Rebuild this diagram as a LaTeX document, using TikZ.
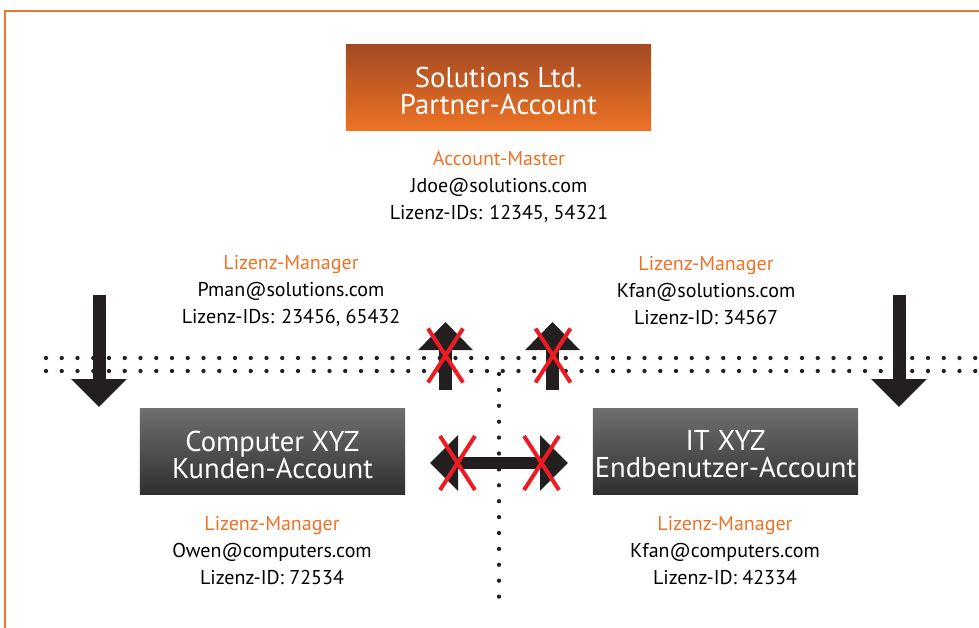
\documentclass[tikz,border=0pt]{standalone}
\usepackage{fontspec}
\setmainfont{PT Sans}
\usetikzlibrary{arrows.meta}

\definecolor{frameorange}{RGB}{240,118,40}
\definecolor{labelorange}{RGB}{238,113,37}
\definecolor{rusttop}{RGB}{163,74,35}
\definecolor{rustbottom}{RGB}{237,114,37}
\definecolor{greytop}{RGB}{112,112,112}
\definecolor{greybottom}{RGB}{48,48,48}
\definecolor{arrowblack}{RGB}{35,31,32}
\definecolor{crossred}{RGB}{237,28,36}

\begin{document}
\begin{tikzpicture}[x=0.75pt, y=-0.75pt, every node/.style={font=\fontsize{15}{20.25}\selectfont}]

	% Define styles for the account boxes, the role texts and the block arrows
	\tikzset{
		partner box/.style={minimum width=229pt, minimum height=64.5pt, top color=rusttop, bottom color=rustbottom,
			text=white, align=center, font=\fontsize{21.5}{20.25}\selectfont},
		customer box/.style={minimum width=199pt, minimum height=64.5pt, top color=greytop, bottom color=greybottom,
			text=white, align=center, font=\fontsize{21.5}{20.25}\selectfont},
		box text/.style={text=white, align=center, font=\fontsize{21.5}{20.25}\selectfont},
		role text/.style={align=center, text=black},
		block arrow/.style={draw=arrowblack, line width=9.75pt, -{Triangle[width=40.5pt, length=21pt]}},
		block arrows/.style={draw=arrowblack, line width=9.4pt, {Triangle[width=40.5pt, length=21pt]}-{Triangle[width=40.5pt, length=21pt]}},
		red cross/.style={draw=crossred, line width=3pt},
		dot/.style={fill=arrowblack}
	}

	\useasboundingbox (0,0) rectangle (979,628);

	% Orange frame, open to the right and at the bottom
	\draw[frameorange, line width=1.6pt] (979,11) -- (5,11) -- (5,628);

	% Dotted separation lines
	\foreach \i in {0,...,59} {
		\fill[dot] (46+\i*15.75,358) circle (1.6pt);
		\fill[dot] (46+\i*15.75,371) circle (1.6pt);
	}
	\foreach \j in {0,...,14} {
		\fill[dot] (499,374+\j*15.9) circle (1.6pt);
	}

	% Account boxes
	\node[partner box] (partner) at (498.5,87) {};
	\node[customer box] (customer) at (272.5,451) {};
	\node[customer box] (enduser) at (725.5,451) {};
	\node[box text] (partner name) at (498.5,90.5) {Solutions Ltd.\\Partner-Account};
	\node[box text] (customer name) at (272.5,454.5) {Computer XYZ\\Kunden-Account};
	\node[box text] (enduser name) at (725.5,454.5) {IT XYZ\\Endbenutzer-Account};

	% Roles and licences
	\node[role text] (master) at (499,187) {\textcolor{labelorange}{Account-Master}\\Jdoe@solutions.com\\Lizenz-IDs: 12345, 54321};
	\node[role text] (pman) at (291,291) {\textcolor{labelorange}{Lizenz-Manager}\\Pman@solutions.com\\Lizenz-IDs: 23456, 65432};
	\node[role text] (kfan) at (706,291) {\textcolor{labelorange}{Lizenz-Manager}\\Kfan@solutions.com\\Lizenz-ID: 34567};
	\node[role text] (owen) at (272,551) {\textcolor{labelorange}{Lizenz-Manager}\\Owen@computers.com\\Lizenz-ID: 72534};
	\node[role text] (kfanit) at (725,551) {\textcolor{labelorange}{Lizenz-Manager}\\Kfan@computers.com\\Lizenz-ID: 42334};

	% Allowed moves: down into the customer accounts
	\coordinate (downL start) at (99,295);
	\coordinate (downL end) at (99,407);
	\coordinate (downR start) at (899,295);
	\coordinate (downR end) at (899,407);
	\draw[block arrow] (downL start) -- (downL end);
	\draw[block arrow] (downR start) -- (downR end);

	% Blocked moves: up and sideways
	\coordinate (upL start) at (445.5,390);
	\coordinate (upL end) at (445.5,322);
	\coordinate (upR start) at (552.5,390);
	\coordinate (upR end) at (552.5,322);
	\coordinate (side left) at (430,463);
	\coordinate (side right) at (568,463);
	\draw[block arrow, -{Triangle[width=39.75pt, length=21pt]}] (upL start) -- (upL end);
	\draw[block arrow, -{Triangle[width=39.75pt, length=21pt]}] (upR start) -- (upR end);
	\draw[block arrows] (side left) -- (side right);

	% Red crosses over the blocked moves
	\foreach \cx/\cy in {445.5/355.5, 553/355.5, 457.5/463, 541.5/463} {
		\draw[red cross] (\cx-17.5,\cy-27) -- (\cx+17.5,\cy+27) (\cx+17.5,\cy-27) -- (\cx-17.5,\cy+27);
	}
\end{tikzpicture}
\end{document}
